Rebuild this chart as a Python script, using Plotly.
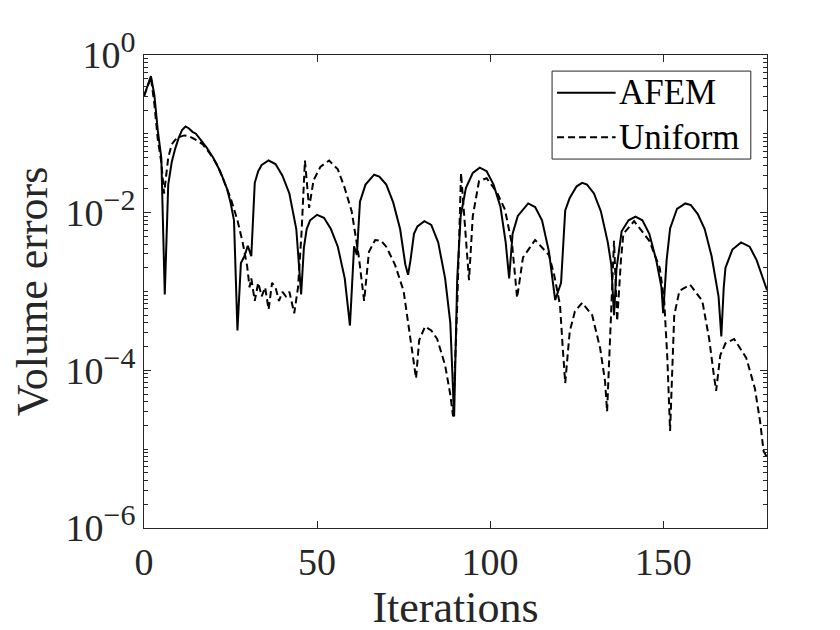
import plotly.graph_objects as go

# ---- data ----
afem_iter = [0, 1, 2, 3, 4, 5, 6, 7, 8, 9, 10, 11, 12, 13, 14, 15, 16, 18, 20, 22, 24, 25, 26, 27, 28, 29, 30, 31, 32, 33, 34, 36, 38, 40, 42, 44,
             45.4, 46.2, 47, 48, 50, 52, 54, 56, 58, 59.5, 60.7, 61.5, 62.4, 64, 66.5, 68, 70, 72, 74, 75.5, 76.3, 77, 78, 79, 81, 83, 85, 87,
             88.5, 89.6, 90.5, 91.5, 93, 95, 97, 99, 101, 103, 104.5, 105.5, 106.5, 108, 111, 113, 115, 117, 118.8, 119.5, 120.5, 121.7, 123,
             125, 126.6, 128, 130, 132, 134, 135, 135.8, 136.5, 138, 140, 142, 144, 146, 148, 149.5, 150, 151, 152, 154, 156.4, 158, 160, 162,
             164, 166, 166.8, 167.5, 168, 170, 172.5, 175, 177, 180]
afem_err = [0.30, 0.40, 0.54, 0.31, 0.109, 0.0497, 9.2e-4, 0.0227, 0.0436, 0.0645, 0.0883, 0.112, 0.124, 0.117, 0.106, 0.1005, 0.0883, 0.068,
            0.0497, 0.0336, 0.020, 0.0135, 8.0e-3, 3.2e-4, 2.3e-3, 2.8e-3, 3.8e-3, 2.8e-3, 0.0239, 0.0336, 0.0403, 0.0459, 0.0414, 0.0295,
            0.0175, 6.2e-3, 9.2e-4, 3.6e-3, 6.2e-3, 8.0e-3, 9.4e-3, 8.6e-3, 6.2e-3, 3.7e-3, 1.47e-3, 3.7e-4, 3.75e-3, 2.9e-3, 0.0138,
            0.0227, 0.0303, 0.0287, 0.0227, 0.0135, 6.2e-3, 2.2e-3, 1.63e-3, 2.5e-3, 5.4e-3, 6.7e-3, 7.8e-3, 7.0e-3, 4.2e-3, 1.47e-3,
            4.0e-4, 2.6e-5, 1.47e-3, 9.1e-3, 0.0205, 0.0319, 0.0373, 0.0336, 0.0227, 0.0118, 4.2e-3, 1.47e-3, 5.4e-3, 9.1e-3, 0.0131,
            0.0118, 8.0e-3, 3.2e-3, 7.8e-4, 9.9e-4, 1.29e-3, 0.0107, 0.0154, 0.0216, 0.0239, 0.0227, 0.0175, 0.0104, 4.2e-3, 2.2e-3,
            5.0e-4, 1.9e-3, 5.8e-3, 8.0e-3, 8.9e-3, 8.0e-3, 5.4e-3, 2.5e-3, 1.13e-3, 5.3e-4, 2.5e-3, 6.3e-3, 0.0112, 0.0131, 0.0125,
            9.6e-3, 6.2e-3, 2.8e-3, 8.7e-4, 2.7e-4, 1.13e-3, 2.0e-3, 3.4e-3, 4.2e-3, 3.7e-3, 2.5e-3, 1.04e-3]

unif_iter = [0, 1, 2, 3, 4, 5, 5.8, 7, 8, 9, 10, 11.6, 13, 15, 17, 19, 21, 23, 25, 27, 28.5, 29.8, 30.5, 31, 32, 33, 34, 35, 36, 37, 38, 39,
             40, 41, 42, 43.4, 44.5, 45.5, 46.5, 47.7, 49, 51, 53.5, 56, 58, 60, 62, 63.6, 65, 66.8, 68.5, 70, 72.5, 75, 77, 78.6, 79.5,
             81.2, 83, 84.7, 87, 88.5, 89.3, 90.5, 91.6, 93, 93.9, 95, 96.8, 99, 102, 104.3, 106.4, 107.8, 109.5, 113, 117, 118.5, 120.2,
             121, 121.7, 123, 124.5, 126.6, 129.5, 131.8, 133.2, 133.8, 134.8, 135.8, 136.7, 137.8, 138.5, 141.6, 146, 149, 150.3, 151.2,
             152, 153.2, 154.7, 157.8, 161.3, 163.3, 164.5, 165.3, 166.5, 168, 170.5, 174, 176.5, 178, 179, 180]
unif_err = [0.30, 0.40, 0.52, 0.238, 0.0838, 0.0436, 0.0175, 0.0497, 0.0735, 0.0838, 0.0906, 0.0955, 0.093, 0.0838, 0.0735, 0.0566, 0.0414,
            0.0259, 0.0154, 8.0e-3, 4.2e-3, 2.1e-3, 1.13e-3, 1.47e-3, 7.6e-4, 1.29e-3, 8.7e-4, 1.13e-3, 5.9e-4, 1.29e-3, 1.13e-3, 7.6e-4,
            9.9e-4, 8.7e-4, 9.9e-4, 5.3e-4, 1.13e-3, 5.4e-3, 0.0459, 0.0115, 0.0259, 0.0383, 0.0459, 0.0354, 0.0205, 0.0104, 2.9e-3,
            7.6e-4, 3.2e-3, 4.5e-3, 4.4e-3, 3.7e-3, 2.2e-3, 1.02e-3, 2.5e-4, 7.9e-5, 2.4e-4, 3.6e-4, 3.2e-4, 2.5e-4, 1.16e-4, 4.9e-5,
            2.6e-5, 6.7e-4, 0.0319, 5.4e-3, 1.39e-3, 9.1e-3, 0.0252, 0.0273, 0.0180, 0.0109, 3.8e-3, 8.3e-4, 2.7e-3, 4.5e-3, 2.9e-3,
            1.63e-3, 6.7e-4, 1.9e-4, 6.9e-5, 3.1e-4, 5.6e-4, 7.2e-4, 5.0e-4, 1.9e-4, 7.3e-5, 3.0e-5, 4.0e-4, 4.4e-3, 4.2e-4, 2.5e-3,
            5.4e-3, 7.8e-3, 4.4e-3, 2.0e-3, 7.6e-4, 1.44e-4, 1.7e-5, 5.0e-4, 1.02e-3, 1.22e-3, 7.6e-4, 2.5e-4, 9.7e-5, 5.5e-5, 1.55e-4,
            2.2e-4, 2.5e-4, 1.44e-4, 5.9e-5, 2.25e-5, 9.5e-6, 7.9e-6]

series_names = ["AFEM", "Uniform"]
x_ticks = [0, 50, 100, 150]
y_ticks = [1e-6, 1e-4, 1e-2, 1e0]
y_exponents = ["\u22126", "\u22124", "\u22122", "0"]
y_minor = [k * 10.0 ** d for d in range(-6, 0) for k in range(1, 10) if not (k == 1 and d % 2 == 0)]

FONT = "Liberation Serif"
AX = "#262626"
DASH = "7px,4px"

y_ticktext = ["10<sup><span style='font-size:30px'>%s</span></sup>" % e for e in y_exponents]

fig = go.Figure()
fig.add_trace(go.Scatter(x=afem_iter, y=afem_err, mode="lines", name=series_names[0],
                         line=dict(color="black", width=2), showlegend=False))
fig.add_trace(go.Scatter(x=unif_iter, y=unif_err, mode="lines", name=series_names[1],
                         line=dict(color="black", width=2, dash=DASH), showlegend=False))

# MATLAB-style legend box (drawn in paper coordinates)
lx0, lx1, ly0, ly1 = 0.655, 0.974, 0.780, 0.966
row_y = [0.920, 0.826]
shapes = [dict(type="rect", xref="paper", yref="paper", x0=lx0, x1=lx1, y0=ly0, y1=ly1,
               line=dict(color=AX, width=1), fillcolor="white", layer="above")]
dashes = ["solid", DASH]
annotations = []
for name, yy, dsh in zip(series_names, row_y, dashes):
    shapes.append(dict(type="line", xref="paper", yref="paper", x0=0.663, x1=0.757, y0=yy, y1=yy,
                       line=dict(color="black", width=2, dash=dsh), layer="above"))
    annotations.append(dict(text=name, xref="paper", yref="paper", x=0.760, y=yy, xanchor="left",
                            yanchor="middle", showarrow=False,
                            font=dict(family=FONT, size=35, color="black")))

fig.update_layout(
    width=840, height=630,
    margin=dict(l=136, r=81, t=47, b=110),
    paper_bgcolor="white", plot_bgcolor="white",
    font=dict(family=FONT, color=AX, size=38),
    shapes=shapes, annotations=annotations,
    showlegend=False,
)
fig.update_xaxes(
    range=[0, 180], tickmode="array", tickvals=x_ticks,
    ticks="inside", ticklen=7, tickcolor=AX, showline=True, linecolor=AX, linewidth=1,
    mirror="allticks", showgrid=False, zeroline=False,
    tickfont=dict(family=FONT, size=38, color=AX),
    title=dict(text="Iterations", font=dict(family=FONT, size=44, color=AX), standoff=4),
)
fig.update_yaxes(
    type="log", range=[-6, 0], tickmode="array", tickvals=y_ticks, ticktext=y_ticktext,
    ticks="inside", ticklen=7, tickcolor=AX, showline=True, linecolor=AX, linewidth=1,
    mirror="allticks", showgrid=False, zeroline=False,
    minor=dict(tickmode="array", tickvals=y_minor, ticks="inside", ticklen=4, tickcolor=AX, showgrid=False),
    tickfont=dict(family=FONT, size=38, color=AX),
    title=dict(text="Volume errors", font=dict(family=FONT, size=44, color=AX), standoff=10),
)

fig.write_html("out.html")
